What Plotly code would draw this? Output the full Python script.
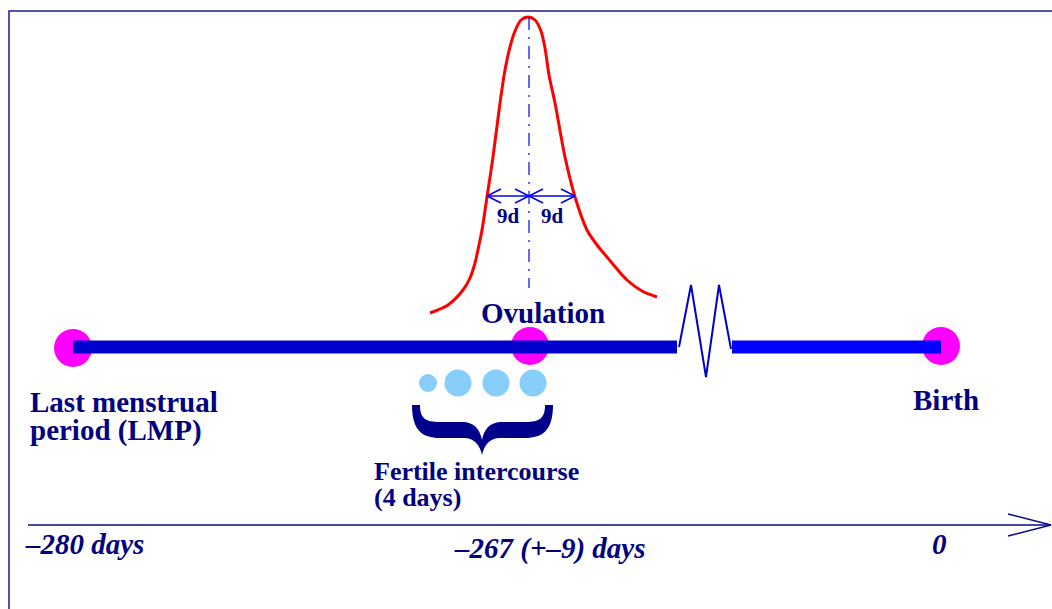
import plotly.graph_objects as go

W, H = 1052, 609
NAVY = "#000080"
FONT = "Liberation Serif"

# diagram coordinates are in page pixels (y grows downwards)
timeline_y = 347
event_x = [73, 530, 941]
event_y = [348, 346, 346]

# thick timeline bar, before and after the break
bar_x0 = [73, 732]
bar_x1 = [677, 941]
bar_colors = ["#0000cc", "#0000ff"]

# zigzag "break" in the timeline
break_x = [679, 691, 706, 719, 731]
break_y = [347, 285, 377, 285, 349]

# ovulation probability curve
curve_x = [430, 448, 463, 470, 475, 479, 482, 487, 493, 500, 505, 510, 515, 521, 528,
           535, 541, 545, 549, 555, 565, 575, 587, 597, 607, 627, 642, 657]
curve_y = [313, 305, 290, 278, 263, 245, 230, 197, 157, 103, 70, 47, 31, 20, 17,
           20, 31, 48, 75, 103, 157, 197, 230, 245, 257, 280, 291, 297]

# +-9 day markers
ovu_x = 529
ovu_top, ovu_bottom = 17, 288
span_y = 196
span_x = [487, 529, 575]
span_labels = ["9d", "9d"]

# fertile intercourse days
dot_x = [428, 458, 496, 533]
dot_d = [18, 27, 27, 27]
dot_y = 383

# brace under the dots
brace_l, brace_r, brace_top = 412, 553, 405
brace_mid, brace_tip = 482, 455

# time axis
axis_y = 525
axis_x0, axis_x1 = 28, 1051
day_labels = ["<i>\u2013280 days</i>", "<i>\u2013267 (+\u20139) days</i>", "<i>0</i>"]
day_x = [23, 452, 939]
day_y = [544, 548, 544]
day_anchor = ["left", "left", "center"]

labels = ["Last menstrual", "period (LMP)", "Ovulation", "Birth",
          "Fertile intercourse", "(4 days)"]
label_x = [28, 28, 543, 946, 372, 372]
label_y = [402, 430, 313, 400, 471, 497]
label_anchor = ["left", "left", "center", "center", "left", "left"]
label_size = [29, 29, 29, 29, 26, 26]

fig = go.Figure()

# frame (only top and left edges are in view)
fig.add_shape(type="rect", x0=9, y0=11, x1=W + 20, y1=H + 20,
              line=dict(color="#1a1a9a", width=1.5))

# timeline bars
for x0, x1, c in zip(bar_x0, bar_x1, bar_colors):
    fig.add_shape(type="rect", x0=x0, x1=x1, y0=timeline_y - 6.5, y1=timeline_y + 6.5,
                  fillcolor=c, line=dict(width=0))

fig.add_trace(go.Scatter(x=break_x, y=break_y, mode="lines",
                         line=dict(color="#0000cc", width=2)))

# curve
fig.add_trace(go.Scatter(x=curve_x, y=curve_y, mode="lines",
                         line=dict(color="#ff0000", width=3, shape="spline", smoothing=0.8)))

# dash-dot ovulation line
fig.add_trace(go.Scatter(x=[ovu_x, ovu_x], y=[ovu_top, ovu_bottom], mode="lines",
                         line=dict(color="#0000ff", width=1.2, dash="13px,7px,2px,7px")))

# dimension arrows
fig.add_trace(go.Scatter(x=[span_x[0], span_x[-1]], y=[span_y, span_y], mode="lines",
                         line=dict(color="#0000ff", width=1.5)))
arm_len, arm_h = 14, 7


def chevron(tip, direction):
    # direction +1: pointing right, -1: pointing left
    bx = tip - direction * arm_len
    return [bx, tip, bx], [span_y - arm_h, span_y, span_y + arm_h]


for tip, d in [(span_x[0], -1), (span_x[1], 1), (span_x[1], -1), (span_x[2], 1)]:
    cx, cy = chevron(tip, d)
    fig.add_trace(go.Scatter(x=cx, y=cy, mode="lines",
                             line=dict(color="#0000ff", width=1.5)))

for i, t in enumerate(span_labels):
    fig.add_annotation(x=(span_x[i] + span_x[i + 1]) / 2, y=span_y + 20, text=f"<b>{t}</b>",
                       showarrow=False, font=dict(family=FONT, size=21, color=NAVY))

# event circles
fig.add_trace(go.Scatter(x=event_x, y=event_y, mode="markers",
                         marker=dict(color="#ff00ff", size=38, opacity=1, line=dict(width=0))))

# fertile dots
fig.add_trace(go.Scatter(x=dot_x, y=[dot_y] * len(dot_x), mode="markers",
                         marker=dict(color="#87cefa", size=dot_d, opacity=1, line=dict(width=0))))

# brace
L, R, T, M, P = brace_l, brace_r, brace_top, brace_mid, brace_tip
yi, yo = T + 17, T + 33
brace_path = (
    f"M {L},{T} L {L + 8},{T} C {L + 8},{yi - 4} {L + 13},{yi} {L + 28},{yi} "
    f"L {M - 20},{yi} C {M - 7},{yi} {M - 2},{yi + 8} {M},{P - 15} "
    f"C {M + 2},{yi + 8} {M + 7},{yi} {M + 20},{yi} "
    f"L {R - 28},{yi} C {R - 13},{yi} {R - 8},{yi - 4} {R - 8},{T} L {R},{T} "
    f"C {R},{yo - 8} {R - 10},{yo} {R - 28},{yo} L {M + 18},{yo} "
    f"C {M + 8},{yo} {M + 2},{yo + 7} {M},{P} "
    f"C {M - 2},{yo + 7} {M - 8},{yo} {M - 18},{yo} "
    f"L {L + 28},{yo} C {L + 10},{yo} {L},{yo - 8} {L},{T} Z"
)
fig.add_shape(type="path", path=brace_path, fillcolor="#00008b", line=dict(width=0))

# time axis with open arrowhead
fig.add_trace(go.Scatter(x=[axis_x0, axis_x1], y=[axis_y, axis_y], mode="lines",
                         line=dict(color="#0a0a8c", width=1.5)))
fig.add_trace(go.Scatter(x=[axis_x1 - 43, axis_x1, axis_x1 - 43],
                         y=[axis_y - 11, axis_y, axis_y + 11], mode="lines",
                         line=dict(color="#0a0a8c", width=1.5)))

for t, x, y, a in zip(day_labels, day_x, day_y, day_anchor):
    fig.add_annotation(x=x, y=y, text=f"<b>{t}</b>", xanchor=a, yanchor="middle",
                       showarrow=False, font=dict(family=FONT, size=29, color=NAVY))

for t, x, y, a, s in zip(labels, label_x, label_y, label_anchor, label_size):
    fig.add_annotation(x=x, y=y, text=f"<b>{t}</b>", xanchor=a, yanchor="middle",
                       showarrow=False, font=dict(family=FONT, size=s, color=NAVY))

fig.update_layout(
    width=W, height=H,
    margin=dict(l=0, r=0, t=0, b=0),
    paper_bgcolor="white", plot_bgcolor="white",
    showlegend=False,
    xaxis=dict(range=[0, W], visible=False, fixedrange=True),
    yaxis=dict(range=[H, 0], visible=False, fixedrange=True),
)

# drop the page margin so the figure fills the window exactly
fig.write_html("out.html", config={"displayModeBar": False},
               post_script="document.body.style.margin='0';document.body.style.overflow='hidden';")
